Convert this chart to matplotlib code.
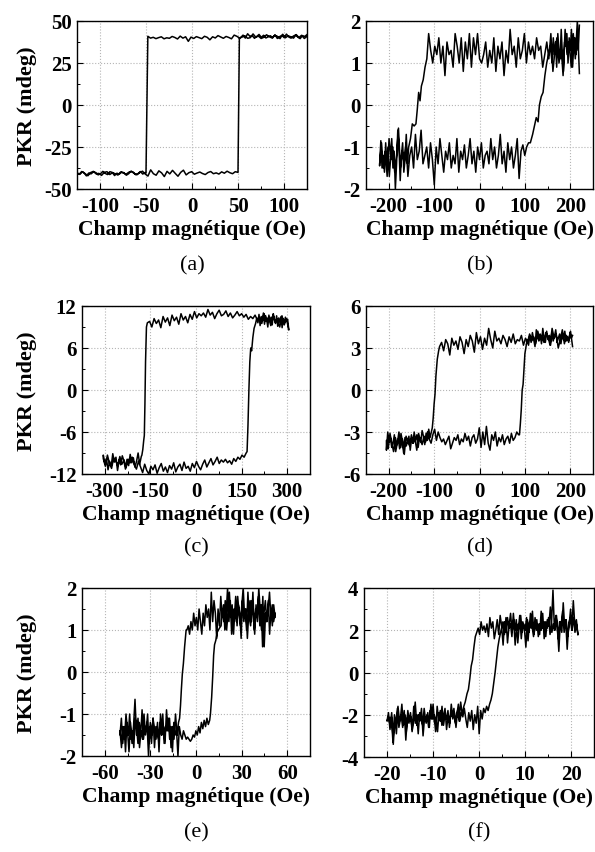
import numpy as np
import matplotlib
matplotlib.use('Agg')
import matplotlib.pyplot as plt
from matplotlib.ticker import AutoMinorLocator

plt.rcParams['font.family'] = ['Liberation Serif', 'DejaVu Serif']
plt.rcParams['axes.unicode_minus'] = False

# ---------- data ----------
# each loop: descending branch (hi plateau -> switch -> lo plateau), then ascending branch
# plateau segments are given as (start field, end field, values); switch points as x/y lists

# (a)
a_dn_hi = [40.8, 39.6, 41.5, 40.2, 41.9, 39.8, 40.6, 41.2, 40.0, 42.1, 39.5, 40.9, 41.4, 39.9, 40.7,
           41.8, 40.3, 39.6, 41.0, 40.4, 42.3, 40.1, 39.7, 41.1, 40.5, 39.8, 40.9, 41.6, 39.4, 40.2,
           40.8, 39.7, 40.5, 41.3, 39.9, 40.6, 38.8, 40.3, 40.9, 39.5, 40.1, 40.7, 39.6, 40.4, 37.9,
           40.6, 39.8, 41.0, 39.3, 40.2, 40.8, 39.7, 40.0, 39.4, 40.6, 40.1, 39.5, 40.3, 39.8, 40.9]
a_dn_sw_x = [-50.0]
a_dn_sw_y = [-40.5]
a_dn_lo = [-40.2, -41.1, -39.6, -40.8, -41.5, -40.0, -39.4, -40.9, -41.8, -40.3, -39.9, -41.2, -40.6,
           -42.0, -40.1, -39.7, -41.4, -40.7, -39.5, -40.9, -41.6, -40.2, -39.8, -41.0, -40.5, -42.2,
           -40.3, -39.6, -41.1, -40.4]
a_up_lo = [-40.6, -41.3, -39.8, -40.9, -42.1, -40.2, -39.5, -41.0, -40.7, -41.9, -40.1, -39.7, -41.4,
           -40.3, -40.9, -41.7, -39.9, -40.5, -41.2, -40.0, -39.6, -40.8, -41.5, -40.2, -39.4, -41.1,
           -42.3, -38.6, -40.9, -41.8, -39.2, -40.4, -42.6, -39.5, -41.0, -38.9, -40.7, -42.4, -40.1,
           -38.8, -41.6, -40.3, -39.7, -41.2, -40.5, -39.9, -40.8, -41.4, -40.2, -39.6, -40.9, -40.4,
           -41.1, -39.8, -40.6, -39.4, -40.3, -40.9, -39.7, -40.1]
a_up_sw_x = [51.5]
a_up_sw_y = [40.0]
a_up_hi = [40.2, 41.6, 39.8, 42.4, 40.9, 41.3, 39.7, 40.8, 42.0, 40.3, 41.5, 39.9, 40.6, 41.2, 40.0,
           41.8, 39.6, 40.7, 41.4, 40.1, 42.2, 40.5, 39.8, 41.0, 41.7, 40.4, 39.5, 41.3, 40.8, 41.9]

# (b)
b_dn_hi = [0.75, 2.0, 1.1, 1.7, 0.9, 1.5, 1.2, 1.8, 0.7, 1.4, 1.0, 1.6, 1.3, 0.8, 1.7, 1.1, 1.5, 1.2,
           0.9, 1.4, 1.3, 1.6, 1.1, 1.4, 1.2, 1.5, 1.0, 1.7, 1.3, 1.1, 1.6, 0.9, 1.4, 1.2, 1.8, 1.0,
           1.3, 0.7, 1.5, 1.1, 1.4, 0.8, 1.6, 1.0, 1.3, 0.9, 1.5, 1.2, 1.0, 1.1, 1.7, 1.2, 1.6, 0.9,
           1.7, 1.1, 1.5, 0.8, 1.6, 1.0, 1.4, 1.7, 0.9, 1.3, 1.2, 1.5, 0.7, 1.4, 1.0, 1.6, 1.2, 1.4,
           1.0, 1.3, 1.7]
b_dn_sw_x = [-116, -120, -124, -128, -131, -134, -137, -140, -144, -148, -152]
b_dn_sw_y = [1.1, 0.9, 0.6, 0.45, 0.1, 0.3, -0.1, -0.45, -0.5, -0.45, -0.8]
b_dn_lo = [-1.0, -1.4, -0.7, -1.3, -1.6, -0.9, -1.2, -1.8, -1.0, -0.6, -1.4, -2.0, -1.1, -1.5, -0.8,
           -1.3, -1.7, -1.0, -1.4, -0.9, -1.6, -1.2, -1.5, -0.85, -1.45]
b_up_lo = [-1.4, -0.9, -1.5, -1.1, -1.7, -0.8, -1.3, -1.0, -1.6, -1.2, -0.55, -1.5, -1.1, -1.4, -0.9,
           -1.7, -1.2, -1.0, -1.5, -0.7, -1.3, -1.1, -0.6, -1.4, -1.2, -1.0, -1.5, -0.9, -1.3, -1.9,
           -1.0, -1.4, -0.8, -1.2, -1.6, -1.1, -1.3, -0.9, -1.5, -1.2, -1.4, -0.8, -1.6, -1.1, -1.3,
           -0.95, -1.5, -1.2, -0.8, -1.4, -1.1, -1.6, -1.0, -1.3, -0.9, -1.5, -1.2, -1.1, -1.4, -0.8,
           -1.3, -1.0, -1.5, -1.2, -0.7, -1.4, -1.1, -1.6, -0.9, -1.3, -1.0, -1.5, -1.2, -0.8, -1.75,
           -1.1, -0.95, -1.2, -1.0, -0.9]
b_up_sw_x = [112, 117, 121, 125, 129, 132, 136, 140, 144, 148, 152, 156]
b_up_sw_y = [-0.9, -0.7, -0.5, -0.3, -0.4, 0.0, 0.2, 0.3, 0.7, 1.0, 1.2, 1.4]
b_up_hi = [1.0, 1.6, 1.2, 1.5, 0.9, 1.7, 1.3, 1.1, 1.8, 1.2, 0.8, 1.5, 1.4, 1.7, 1.0, 1.6, 1.3, 1.8,
           0.9, 1.4, 1.6, 1.2, 1.7, 1.3, 1.9]

# (c)
c_dn_hi = [8.6, 10.2, 9.3, 10.6, 9.0, 10.1, 9.7, 10.8, 9.2, 10.4, 9.8, 10.9, 9.5, 10.3, 10.0, 10.7,
           10.2, 10.5, 10.1, 10.8, 10.4, 10.9, 10.6, 11.2, 10.7, 10.3, 11.0, 10.5, 11.3, 10.8, 10.6,
           11.4, 10.9, 10.2, 11.1, 10.7, 11.5, 10.4, 11.0, 10.6, 10.9, 10.3, 11.2, 10.1, 10.8, 9.6,
           10.5, 10.0, 10.9, 9.4, 10.4, 9.9, 10.7, 9.2, 10.3, 9.7, 10.5, 8.9, 10.0, 9.5, 10.2, 9.0,
           9.8, 9.6]
c_dn_sw_x = [-163, -166, -168, -170, -172, -175, -178]
c_dn_sw_y = [9.0, 4.0, -2.0, -6.5, -7.2, -8.5, -9.3]
c_dn_lo = [-9.5, -10.6, -9.0, -10.2, -11.0, -9.7, -10.4, -9.2, -10.8, -9.9, -11.3, -10.1, -9.4, -10.7,
           -10.0, -11.5, -9.6, -10.3, -9.1, -10.9, -10.2, -11.4, -9.8, -10.5, -9.3]
c_up_lo = [-9.8, -10.9, -9.3, -10.5, -11.2, -9.7, -10.1, -10.8, -9.5, -10.6, -10.0, -11.1, -9.9, -10.4,
           -9.6, -10.7, -11.3, -10.2, -11.0, -11.8, -10.6, -11.5, -12.0, -10.9, -11.4, -10.7, -11.9,
           -11.1, -10.5, -11.6, -11.0, -11.8, -10.8, -11.3, -10.4, -11.7, -11.0, -10.6, -11.5, -10.3,
           -11.2, -10.9, -11.6, -10.5, -11.1, -10.2, -10.9, -11.4, -10.6, -10.0, -11.0, -10.4, -9.8,
           -10.7, -10.2, -9.6, -10.5, -10.0, -10.3, -9.9, -10.4, -10.1, -10.6, -9.8, -10.2, -9.6, -9.9,
           -9.3, -9.6, -9.0]
c_up_sw_x = [168, 171, 174, 177, 180, 183, 187, 191, 196]
c_up_sw_y = [-8.8, -5.0, 0.0, 4.0, 6.0, 5.6, 7.5, 8.8, 9.5]
c_up_hi = [10.3, 9.6, 10.8, 9.2, 10.5, 9.9, 11.0, 9.4, 10.6, 10.1, 9.0, 10.7, 9.8, 10.4, 9.3, 10.9,
           10.0, 9.5, 10.6, 9.1, 10.3, 9.7, 10.5, 8.9, 10.2, 9.6, 10.4, 9.8, 10.1, 8.7]

# (d)
d_dn_hi = [3.1, 4.2, 3.5, 3.9, 3.3, 4.3, 3.6, 3.0, 4.0, 3.7, 4.4, 3.2, 3.8, 4.1, 3.4, 3.9, 3.6, 4.2,
           3.3, 3.8, 3.5, 4.0, 3.4, 3.7, 3.2, 3.9, 3.5, 3.6, 3.3, 4.0, 3.4, 3.8, 3.1, 3.6, 3.9, 3.3,
           3.7, 3.5, 4.2, 3.0, 3.6, 4.4, 3.2, 3.7, 2.9, 3.8, 3.3, 4.1, 2.7, 3.5, 3.9, 3.1, 3.6, 2.6,
           3.4, 3.8, 2.9, 3.5, 3.2, 3.7, 2.5, 3.3, 3.6, 2.8, 3.4, 3.1]
d_dn_sw_x = [-90, -93, -96, -98, -100, -102, -104]
d_dn_sw_y = [2.8, 2.2, 1.0, -0.3, -1.0, -2.0, -2.7]
d_dn_lo = [-3.0, -3.4, -2.8, -3.6, -3.1, -3.9, -3.3, -2.9, -3.7, -3.4, -4.1, -3.2, -3.6, -3.0, -3.8,
           -3.5, -4.3, -3.3, -3.7, -4.0, -3.4, -4.5, -3.6, -3.1, -4.2, -3.5, -3.9, -4.4, -3.2, -3.8,
           -4.1, -3.4, -3.7, -3.0, -4.3]
d_up_lo = [-3.6, -4.2, -3.1, -3.8, -4.4, -3.4, -3.9, -3.0, -4.1, -3.5, -4.6, -3.3, -3.7, -4.0, -3.2,
           -3.8, -3.5, -4.3, -3.1, -3.6, -3.9, -3.3, -3.7, -3.0, -3.5, -3.8, -3.2, -2.8, -3.6, -3.0,
           -3.4, -3.7, -3.5, -3.9, -3.6, -3.3, -4.2, -3.8, -3.4, -3.6, -3.2, -3.9, -3.5, -3.7, -3.1,
           -3.6, -3.3, -4.0, -3.4, -3.2, -3.8, -3.5, -2.7, -4.1, -3.0, -3.9, -2.6, -3.8, -4.3, -3.2,
           -3.6, -3.0, -4.0, -3.4, -3.7, -3.2, -3.9, -3.5, -3.3, -3.8, -3.1, -3.6, -3.4, -3.0, -3.2]
d_up_sw_x = [88, 90, 92, 94, 96, 98, 100, 102, 105]
d_up_sw_y = [-3.2, -2.4, -1.4, 0.0, 0.4, 1.5, 2.6, 3.0, 3.6]
d_up_hi = [3.2, 3.9, 3.4, 4.1, 3.6, 3.1, 4.3, 3.8, 3.5, 4.0, 3.3, 4.4, 3.7, 3.4, 4.2, 3.6, 3.9, 3.2,
           4.1, 3.5, 3.8, 4.3, 3.4, 3.7, 4.0, 3.3, 3.9, 3.6, 4.2, 3.5, 3.8, 3.4, 4.1, 3.7, 3.9]

# (e)
e_dn_hi = [1.3, 1.6, 1.1, 1.5, 0.9, 1.7, 1.2, 1.4, 0.6, 1.8, 1.0, 1.5, 2.0, 1.2, 1.6, 0.9, 1.4, 1.7,
           1.1, 1.3, 1.9, 1.0, 1.5, 1.2, 1.7, 0.8, 1.4, 1.6, 1.1, 1.8, 1.3, 1.5, 0.9, 1.7, 1.2, 2.0,
           1.4, 1.0, 1.6, 1.3, 1.8, 1.1, 1.5, 0.8, 1.4, 1.7, 1.2, 1.9, 1.0, 1.5, 1.3, 1.6, 1.1, 1.4,
           0.9, 1.2, 1.5, 1.0, 1.3, 1.1, 1.4, 1.0, 1.2, 0.9, 1.1, 1.0]
e_dn_sw_x = [-6.5, -7.5, -8.3, -9.0, -9.6, -10.2, -10.8]
e_dn_sw_y = [1.0, 0.6, 0.2, -0.05, -0.4, -0.8, -1.1]
e_dn_lo = [-1.2, -1.5, -1.0, -1.6, -1.3, -1.8, -1.1, -1.4, -0.9, -1.7, -1.3, -1.5, -1.0, -1.9, -1.2,
           -1.6, -1.4, -1.1, -1.7, -1.3, -2.0, -1.2, -1.5, -1.0, -1.6, -1.4, -1.8, -1.1, -1.5, -0.65,
           -1.3, -1.7, -1.2, -1.9, -1.4, -1.0, -1.6, -1.3, -1.8, -1.4]
e_up_lo = [-1.5, -1.1, -1.7, -1.3, -1.9, -1.2, -1.5, -1.0, -1.6, -1.4, -1.8, -1.1, -1.3, -1.7, -1.2,
           -1.5, -0.9, -1.6, -1.3, -1.4, -1.0, -1.7, -1.2, -1.5, -1.1, -1.8, -1.3, -1.4, -1.6, -1.2,
           -1.5, -1.0, -1.7, -1.3, -1.4, -1.1, -1.6, -1.3, -1.9, -1.2, -1.5, -1.4, -2.0, -1.3, -1.5,
           -1.6, -1.4, -1.5, -1.6, -1.55, -1.6, -1.65, -1.6, -1.5, -1.55, -1.4, -1.5, -1.3, -1.45,
           -1.2, -1.35, -1.15, -1.3, -1.1, -1.25, -1.15]
e_up_sw_x = [9.5, 10.3, 11.0, 11.6, 12.2, 13.0, 14.0, 15.5]
e_up_sw_y = [-1.0, -0.6, -0.1, 0.4, 0.65, 0.75, 0.95, 1.05]
e_up_hi = [1.1, 1.5, 1.2, 1.7, 1.0, 1.4, 1.9, 1.3, 1.6, 0.9, 1.5, 1.2, 1.8, 1.4, 1.1, 1.6, 2.0, 1.3,
           1.5, 0.8, 1.4, 1.7, 1.2, 1.9, 1.0, 1.5, 1.3, 1.8, 1.1, 1.6, 0.6, 1.4, 1.7, 1.2, 1.5, 1.9,
           1.3, 1.6, 1.2, 1.4]

# (f)
f_dn_hi = [1.8, 2.3, 1.9, 2.6, 2.0, 3.0, 2.2, 1.7, 2.5, 2.1, 3.3, 1.9, 2.4, 1.0, 2.2, 2.7, 2.0, 3.9,
           2.3, 1.8, 2.6, 2.1, 2.4, 1.6, 2.8, 2.0, 2.3, 1.7, 2.5, 2.2, 1.8, 2.9, 2.1, 2.4, 1.5, 2.6,
           2.0, 2.3, 1.9, 2.7, 2.2, 1.4, 2.5, 2.0, 2.8, 1.7, 2.3, 2.1, 2.6, 1.9, 2.4, 1.3, 2.2, 2.7,
           1.8, 2.5, 2.0, 1.6, 2.4, 2.1, 2.6, 1.7, 2.3, 1.9, 2.2, 2.0, 2.4, 1.8, 2.1, 1.9]
f_dn_sw_x = [-0.8, -1.1, -1.4, -1.7, -2.0, -2.3, -2.6, -3.0]
f_dn_sw_y = [1.7, 1.2, 0.6, 0.3, -0.3, -0.8, -1.0, -1.4]
f_dn_lo = [-1.6, -2.0, -1.4, -2.3, -1.8, -2.6, -1.9, -2.2, -1.5, -2.4, -2.0, -2.7, -1.7, -2.1, -2.5,
           -1.8, -2.3, -1.6, -2.8, -2.0, -2.2, -1.5, -2.6, -1.9, -2.4, -2.1, -3.0, -1.7, -2.3, -2.0,
           -2.5, -1.4, -2.2, -2.8, -1.9, -2.4, -2.1, -3.2, -1.8, -2.6, -2.0, -2.3, -1.6, -2.9, -2.2,
           -3.4, -1.9, -2.5, -2.1, -2.3]
f_up_lo = [-2.3, -1.9, -2.7, -2.1, -3.3, -2.0, -2.4, -1.7, -2.6, -2.2, -1.5, -2.5, -2.0, -2.8, -1.8,
           -2.3, -2.1, -2.7, -1.6, -2.4, -2.0, -2.9, -1.9, -2.2, -2.5, -1.7, -2.3, -2.0, -2.6, -1.8,
           -2.2, -1.5, -2.4, -2.1, -2.8, -1.9, -2.3, -1.6, -2.5, -2.0, -2.2, -1.8, -2.6, -1.9, -2.1,
           -1.7, -2.4, -2.0, -1.5, -2.3, -1.9, -2.1, -1.7, -2.2, -2.6, -1.9, -2.3, -1.8, -2.7, -2.0,
           -2.4, -1.6, -2.9, -1.8, -2.2, -1.7, -1.9, -1.6, -1.8, -1.5]
f_up_sw_x = [2.6, 2.9, 3.2, 3.5, 3.8, 4.1, 4.4, 4.8]
f_up_sw_y = [-1.3, -1.0, -0.5, 0.0, 0.6, 1.2, 1.6, 2.0]
f_up_hi = [2.4, 1.8, 2.6, 1.4, 2.2, 2.8, 1.9, 2.5, 1.3, 2.3, 2.0, 2.7, 1.6, 2.4, 2.1, 1.2, 2.5, 1.9,
           2.8, 2.2, 1.7, 2.6, 2.0, 2.3, 1.8, 2.9, 2.1, 2.4, 1.7, 2.5, 2.2, 3.1, 1.9, 2.3, 2.0, 2.7,
           1.6, 2.4, 2.2, 2.9, 1.9, 2.5, 1.1, 2.3, 2.6, 2.0, 3.4, 2.2, 2.5, 1.8]

# field ranges of the plateau segments (Oe)
a_fields = [(125, -48), (-51, -125), (-125, 50), (53, 125)]
b_fields = [(220, -112), (-156, -220), (-220, 108), (160, 220)]
c_fields = [(305, -160), (-180, -305), (-305, 165), (200, 305)]
d_fields = [(205, -88), (-106, -205), (-205, 86), (108, 205)]
e_fields = [(52, -6), (-11.5, -50), (-50, 9), (16.5, 52)]
f_fields = [(21.5, -0.5), (-3.3, -20), (-20, 2.3), (5.2, 21.5)]

panel_letters = ['a', 'b', 'c', 'd', 'e', 'f']
x_lims = [(-125, 125), (-250, 250), (-375, 375), (-250, 250), (-75, 75), (-25, 25)]
x_ticks = [[-100, -50, 0, 50, 100], [-200, -100, 0, 100, 200], [-300, -150, 0, 150, 300],
           [-200, -100, 0, 100, 200], [-60, -30, 0, 30, 60], [-20, -10, 0, 10, 20]]
y_lims = [(-50, 50), (-2, 2), (-12, 12), (-6, 6), (-2, 2), (-4, 4)]
y_ticks = [[-50, -25, 0, 25, 50], [-2, -1, 0, 1, 2], [-12, -6, 0, 6, 12], [-6, -3, 0, 3, 6],
           [-2, -1, 0, 1, 2], [-4, -2, 0, 2, 4]]


def build_loop(fields, hi_dn, sw_dn, lo_dn, lo_up, sw_up, hi_up):
    xs, ys = [], []
    (f1, f2, f3, f4) = fields
    xs += list(np.linspace(f1[0], f1[1], len(hi_dn))); ys += hi_dn
    xs += sw_dn[0]; ys += sw_dn[1]
    xs += list(np.linspace(f2[0], f2[1], len(lo_dn))); ys += lo_dn
    xs += list(np.linspace(f3[0], f3[1], len(lo_up))); ys += lo_up
    xs += sw_up[0]; ys += sw_up[1]
    xs += list(np.linspace(f4[0], f4[1], len(hi_up))); ys += hi_up
    return np.array(xs), np.array(ys)


loops = [
    build_loop(a_fields, a_dn_hi, (a_dn_sw_x, a_dn_sw_y), a_dn_lo, a_up_lo, (a_up_sw_x, a_up_sw_y), a_up_hi),
    build_loop(b_fields, b_dn_hi, (b_dn_sw_x, b_dn_sw_y), b_dn_lo, b_up_lo, (b_up_sw_x, b_up_sw_y), b_up_hi),
    build_loop(c_fields, c_dn_hi, (c_dn_sw_x, c_dn_sw_y), c_dn_lo, c_up_lo, (c_up_sw_x, c_up_sw_y), c_up_hi),
    build_loop(d_fields, d_dn_hi, (d_dn_sw_x, d_dn_sw_y), d_dn_lo, d_up_lo, (d_up_sw_x, d_up_sw_y), d_up_hi),
    build_loop(e_fields, e_dn_hi, (e_dn_sw_x, e_dn_sw_y), e_dn_lo, e_up_lo, (e_up_sw_x, e_up_sw_y), e_up_hi),
    build_loop(f_fields, f_dn_hi, (f_dn_sw_x, f_dn_sw_y), f_dn_lo, f_up_lo, (f_up_sw_x, f_up_sw_y), f_up_hi),
]

W, H = 595, 853
fig = plt.figure(figsize=(W / 100, H / 100), dpi=100)

# axes boxes in pixels: left, top, right, bottom
boxes = [(77, 22, 307, 190), (366, 22, 593, 190),
         (82, 307, 310, 475), (366, 307, 593, 475),
         (82, 589, 310, 757), (364, 589, 594, 758)]
caption_y = [266, 266, 548, 548, 833, 833]

for i, (x, y) in enumerate(loops):
    l, t, r, b = boxes[i]
    ax = fig.add_axes([l / W, 1 - b / H, (r - l) / W, (b - t) / H])
    ax.plot(x, y, color='black', linewidth=1.1)
    ax.set_xlim(*x_lims[i])
    ax.set_ylim(*y_lims[i])
    ax.set_xticks(x_ticks[i])
    ax.set_yticks(y_ticks[i])
    ax.xaxis.set_minor_locator(AutoMinorLocator(2))
    ax.yaxis.set_minor_locator(AutoMinorLocator(2))
    ax.grid(True, which='major', color='#b5b5b5', linestyle=':', linewidth=0.8)
    ax.tick_params(axis='both', which='major', direction='in', length=4, width=0.8,
                   labelsize=15, top=False, right=False)
    ax.tick_params(axis='x', which='major', pad=5)
    ax.tick_params(axis='y', which='major', pad=4)
    ax.tick_params(axis='both', which='minor', direction='in', length=2.5, width=0.7,
                   top=False, right=False)
    for lab in ax.get_xticklabels() + ax.get_yticklabels():
        lab.set_fontweight('bold')
    for sp in ax.spines.values():
        sp.set_linewidth(1.0)
    ax.set_xlabel('Champ magnétique (Oe)', fontsize=15.6, fontweight='bold')
    ax.xaxis.set_label_coords(0.5, -0.178)
    if i % 2 == 0:
        ax.set_ylabel('PKR (mdeg)', fontsize=16, fontweight='bold')
        ax.yaxis.set_label_coords((37 - l) / (r - l), 0.5)
    cx = (l + r) / 2
    fig.text(cx / W, 1 - caption_y[i] / H, '(' + panel_letters[i] + ')', fontsize=16,
             ha='center', va='center')

fig.savefig('out.png', dpi=100)
